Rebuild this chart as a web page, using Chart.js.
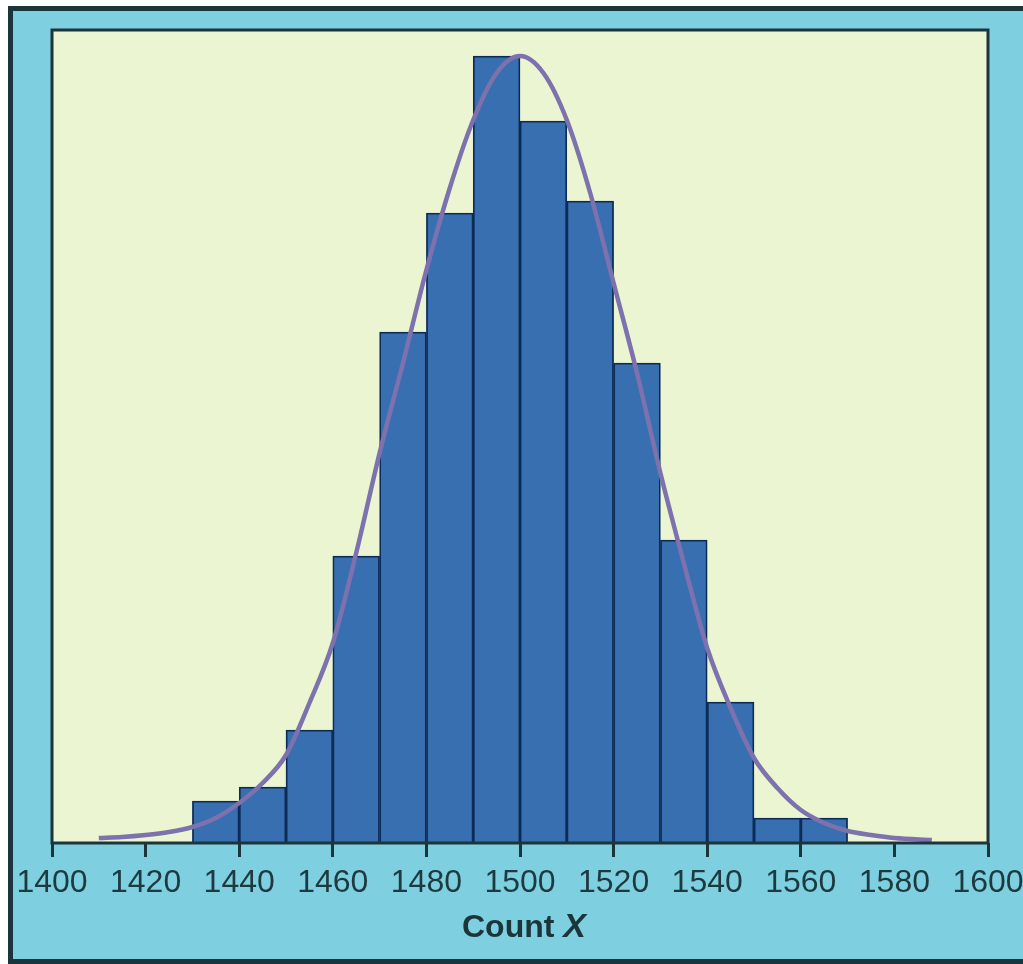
<!DOCTYPE html>
<html>
<head>
<meta charset="utf-8">
<script src="https://cdn.jsdelivr.net/npm/chart.js@4"></script>
<style>
  html, body { margin: 0; padding: 0; background: #ffffff; overflow: hidden; }
  #frame {
    position: absolute; left: 8px; top: 6px; width: 1040px; height: 958px;
    box-sizing: border-box; border: 5px solid #1c353a; background: #7ecfdf;
  }
  #wrap { position: absolute; left: 0; top: 0; width: 1023px; height: 964px; }
</style>
</head>
<body>
<div id="frame"></div>
<div id="wrap"><canvas id="histChart" width="1023" height="964"></canvas></div>
<script>
// histogram bins (bin centre, width 10) and their heights
const binCentres = [1435, 1445, 1455, 1465, 1475, 1485, 1495, 1505, 1515, 1525, 1535, 1545, 1555, 1565];
const binHeights = [42, 56, 113, 287, 511, 630, 787, 722, 642, 480, 303, 141, 25, 25];

// normal curve
const curveX = [1410, 1415, 1420, 1425, 1430, 1435, 1440, 1445, 1450, 1455, 1460, 1465, 1470, 1475, 1480, 1485, 1490, 1495, 1500,
    1505, 1510, 1515, 1520, 1525, 1530, 1535, 1540, 1545, 1550, 1555, 1560, 1565, 1570, 1575, 1580, 1588];
const curveY = [5, 6, 8, 11, 16, 25, 40, 60, 88, 140, 200, 290, 390, 480, 573, 655, 723, 770, 787,
    770, 723, 650, 560, 470, 370, 280, 195, 135, 85, 55, 33, 20, 12, 8, 5, 3];

const xTicks = [1400, 1420, 1440, 1460, 1480, 1500, 1520, 1540, 1560, 1580, 1600];

// plot panel background + border
const panelPlugin = {
    id: "panel",
    beforeDatasetsDraw(chart) {
        const a = chart.chartArea;
        const ctx = chart.ctx;
        ctx.save();
        ctx.fillStyle = "#ebf5d2";
        ctx.fillRect(a.left, a.top, a.right - a.left, a.bottom - a.top);
        ctx.restore();
    },
    afterDatasetsDraw(chart) {
        const a = chart.chartArea;
        const ctx = chart.ctx;
        ctx.save();
        ctx.strokeStyle = "#1c353a";
        ctx.lineWidth = 3;
        ctx.strokeRect(a.left, a.top, a.right - a.left, a.bottom - a.top);
        ctx.restore();
    },
    afterDraw(chart) {
        // axis title: "Count" bold, "X" bold italic
        const ctx = chart.ctx;
        const a = chart.chartArea;
        ctx.save();
        ctx.fillStyle = "#1c353a";
        ctx.textBaseline = "middle";
        const f1 = "bold 32px 'Liberation Sans', sans-serif";
        const f2 = "italic bold 34px 'Liberation Sans', sans-serif";
        ctx.font = f1;
        const w1 = ctx.measureText("Count ").width;
        ctx.font = f2;
        const w2 = ctx.measureText("X").width;
        const cx = (a.left + a.right) / 2 + 4;
        let x = cx - (w1 + w2) / 2;
        ctx.font = f1;
        ctx.fillText("Count ", x, 928);
        ctx.font = f2;
        ctx.fillText("X", x + w1, 928);
        ctx.restore();
    }
};

const canvas = document.querySelector("#histChart");

new Chart(canvas, {
    type: "bar",
    data: {
        datasets: [
            {
                type: "line",
                data: curveX.map((x, i) => ({ x: x, y: curveY[i] })),
                borderColor: "#7d72ad",
                borderWidth: 4.5,
                pointRadius: 0,
                cubicInterpolationMode: "monotone",
                fill: false
            },
            {
                type: "bar",
                data: binCentres.map((x, i) => ({ x: x, y: binHeights[i] })),
                backgroundColor: "#386fb1",
                borderColor: "#0d2b57",
                borderWidth: 1.8,
                barPercentage: 1,
                categoryPercentage: 1
            }
        ]
    },
    options: {
        responsive: false,
        animation: false,
        devicePixelRatio: 1,
        layout: { padding: { left: 52, right: 35, top: 30, bottom: 41 } },
        plugins: { legend: { display: false }, tooltip: { enabled: false } },
        scales: {
            x: {
                type: "linear",
                min: 1400,
                max: 1600,
                offset: false,
                afterFit(scale) {
                    scale.height = 80;
                    scale.paddingLeft = 0;
                    scale.paddingRight = 0;
                },
                afterBuildTicks(scale) { scale.ticks = xTicks.map(v => ({ value: v })); },
                grid: {
                    offset: false,
                    drawOnChartArea: false,
                    drawTicks: true,
                    tickLength: 14,
                    tickWidth: 3,
                    tickColor: "#1c353a"
                },
                border: { display: false },
                ticks: {
                    autoSkip: false,
                    maxRotation: 0,
                    padding: 7,
                    color: "#1d3a40",
                    font: { family: "'Liberation Sans', sans-serif", size: 32 },
                    callback: (v) => String(v)
                }
            },
            y: {
                display: false,
                min: 0,
                max: 813
            }
        }
    },
    plugins: [panelPlugin]
});
</script>
</body>
</html>
